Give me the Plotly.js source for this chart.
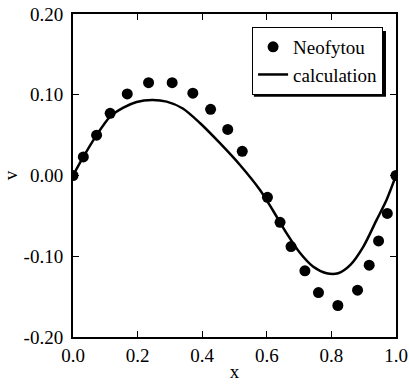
<!DOCTYPE html>
<html>
<head>
<meta charset="utf-8">
<script src="https://cdn.plot.ly/plotly-3.0.1.min.js"></script>
<style>html,body{margin:0;padding:0;background:#fff;}#chart{width:409px;height:385px;}</style>
</head>
<body>
<div id="chart"></div>
<script>
// Neofytou reference data (dots)
const neoX = [0.0, 0.032, 0.073, 0.115, 0.168, 0.234, 0.307, 0.371, 0.426, 0.479, 0.524, 0.602, 0.641, 0.675, 0.718, 0.760, 0.820, 0.881, 0.917, 0.946, 0.973, 1.0];
const neoY = [0.0, 0.023, 0.050, 0.077, 0.101, 0.115, 0.115, 0.102, 0.082, 0.057, 0.030, -0.027, -0.058, -0.088, -0.118, -0.145, -0.161, -0.142, -0.111, -0.081, -0.047, 0.0];

// Calculation (solid line)
const calcX = [0.0, 0.032, 0.073, 0.115, 0.156, 0.197, 0.244, 0.290, 0.340, 0.393, 0.455, 0.517, 0.579, 0.620, 0.662, 0.703, 0.744, 0.785, 0.821, 0.858, 0.899, 0.940, 0.971, 1.0];
const calcY = [0.0, 0.023, 0.050, 0.073, 0.084, 0.091, 0.0935, 0.0915, 0.083, 0.065, 0.040, 0.013, -0.018, -0.044, -0.072, -0.096, -0.113, -0.121, -0.121, -0.111, -0.088, -0.055, -0.030, 0.0];

// Tick labels
const xTickVals = [0.0, 0.2, 0.4, 0.6, 0.8, 1.0];
const xTickText = ["0.0", "0.2", "0.4", "0.6", "0.8", "1.0"];
const yTickVals = [-0.2, -0.1, 0.0, 0.1, 0.2];
const yTickText = ["-0.20", "-0.10", "0.00", "0.10", "0.20"];

const family = "Times New Roman, Liberation Serif, DejaVu Serif, serif";
const font = {family: family, size: 19, color: "#000"};
const legendFont = {family: family, size: 19, color: "#000"};

const traces = [
  {
    x: calcX, y: calcY, type: "scatter", mode: "lines", name: "calculation",
    line: {color: "#000", width: 2.5, shape: "spline", smoothing: 0.8}
  },
  {
    x: neoX, y: neoY, type: "scatter", mode: "markers", name: "Neofytou",
    marker: {color: "#000", size: 11, symbol: "circle"}
  }
];

const axisCommon = {
  showline: true, linecolor: "#000", linewidth: 2, mirror: "ticks",
  ticks: "inside", ticklen: 6, tickwidth: 1, tickcolor: "#000",
  showgrid: false, zeroline: false, tickfont: font
};

const layout = {
  width: 409, height: 385,
  margin: {l: 73, r: 13, t: 14, b: 48},
  paper_bgcolor: "#fff", plot_bgcolor: "#fff",
  font: font,
  showlegend: true,
  legend: {
    x: 0.96, y: 0.96, xanchor: "right", yanchor: "top",
    bgcolor: "#fff", bordercolor: "#000", borderwidth: 1,
    font: legendFont, traceorder: "reversed", tracegroupgap: 0
  },
  // legend drop shadow (offset right/down behind the legend box)
  shapes: [{
    type: "rect", xref: "paper", yref: "paper", layer: "above",
    x0: 0.56, x1: 0.969, y0: 0.744, y1: 0.947,
    fillcolor: "#000", line: {width: 0}
  }],
  xaxis: Object.assign({}, axisCommon, {
    range: [0, 1], tickvals: xTickVals, ticktext: xTickText,
    title: {text: "x", font: font, standoff: 0}
  }),
  yaxis: Object.assign({}, axisCommon, {
    range: [-0.2, 0.2], tickvals: yTickVals, ticktext: yTickText,
    ticklabelstandoff: 4,
    title: {text: "v", font: font, standoff: 4}
  })
};

Plotly.newPlot("chart", traces, layout, {staticPlot: true, displayModeBar: false});
</script>
</body>
</html>
